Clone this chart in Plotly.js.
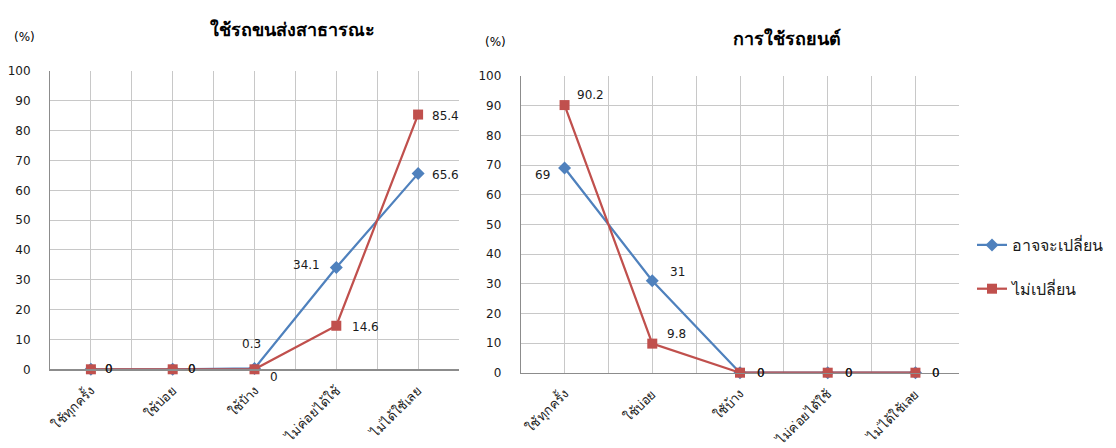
<!DOCTYPE html>
<html>
<head>
<meta charset="utf-8">
<script src="https://cdn.plot.ly/plotly-3.0.1.min.js"></script>
<style>
  html, body { margin: 0; padding: 0; background: #fff; }
  #chart { width: 1116px; height: 448px; }
</style>
</head>
<body>
<div id="chart"></div>
<script>
// Response categories (x axis) and the two series per panel
const categories = ['ใช้ทุกครั้ง', 'ใช้บ่อย', 'ใช้บ้าง', 'ไม่ค่อยได้ใช้', 'ไม่ได้ใช้เลย'];
const seriesNames = ['อาจจะเปลี่ยน', 'ไม่เปลี่ยน'];
const panelTitles = ['ใช้รถขนส่งสาธารณะ', 'การใช้รถยนต์'];

// Panel 1: public transport use (%)
const publicMaybe = [0, 0, 0.3, 34.1, 65.6];
const publicNoChange = [0, 0, 0, 14.6, 85.4];

// Panel 2: car use (%)
const carMaybe = [69, 31, 0, 0, 0];
const carNoChange = [90.2, 9.8, 0, 0, 0];

const yTicks = [0, 10, 20, 30, 40, 50, 60, 70, 80, 90, 100];

// ---- styling ----
const W = 1116, H = 448;
const BLUE = '#4F81BD', RED = '#C0504D';
const GRID = '#C8C8C8', AXIS = '#8C8C8C';
const FONT = 'DejaVu Sans, Tahoma, sans-serif';
const TXT = '#1a1a1a';

const xs = categories.map((c, i) => i + 1);

// data label offsets in pixels [dx, dy] (dy up is positive)
const offPublicMaybe = [[18, 0], [19, 0], [-3, 24], [-30, 3], [27, -1]];
const offPublicNo = [[18, 0], [19, 0], [19, -8], [29, -1], [27, -1]];
const offCarMaybe = [[-22, -7], [25, 9], [21, 0], [21, 0], [21, 0]];
const offCarNo = [[26, 10], [24, 10], [21, 0], [21, 0], [21, 0]];

function trace(y, name, color, symbol, size, xa, ya, showlegend) {
  return {
    type: 'scatter', mode: 'lines+markers',
    x: xs, y: y, name: name,
    xaxis: xa, yaxis: ya,
    line: { color: color, width: 2.25 },
    marker: { color: color, symbol: symbol, size: size },
    showlegend: showlegend,
    legendgroup: name,
    cliponaxis: false,
    hoverinfo: 'skip'
  };
}

const data = [
  trace(publicMaybe, seriesNames[0], BLUE, 'diamond', 10, 'x', 'y', true),
  trace(publicNoChange, seriesNames[1], RED, 'square', 10, 'x', 'y', true),
  trace(carMaybe, seriesNames[0], BLUE, 'diamond', 10, 'x2', 'y2', false),
  trace(carNoChange, seriesNames[1], RED, 'square', 10, 'x2', 'y2', false)
];

function labels(values, offsets, xref, yref) {
  return values.map((v, i) => ({
    x: xs[i], y: v, xref: xref, yref: yref,
    text: String(v), showarrow: false,
    xanchor: 'center', yanchor: 'middle',
    xshift: offsets[i][0], yshift: offsets[i][1],
    font: { family: FONT, size: 12, color: TXT }
  }));
}

function paperText(text, px, py, size) {
  return {
    text: text, x: px / W, y: 1 - py / H, xref: 'paper', yref: 'paper',
    xanchor: 'center', yanchor: 'middle', showarrow: false,
    font: { family: FONT, size: size, color: '#000' }
  };
}

const annotations = [].concat(
  labels(publicMaybe, offPublicMaybe, 'x', 'y'),
  labels(publicNoChange, offPublicNo, 'x', 'y'),
  labels(carMaybe, offCarMaybe, 'x2', 'y2'),
  labels(carNoChange, offCarNo, 'x2', 'y2'),
  [
    paperText('<b>' + panelTitles[0] + '</b>', 292, 30, 18),
    paperText('<b>' + panelTitles[1] + '</b>', 787, 39, 18),
    paperText('(%)', 24, 37, 12),
    paperText('(%)', 495, 42, 12)
  ]
);

function xaxis(domain, anchor) {
  return {
    domain: domain, anchor: anchor,
    range: [0.5, 5.5], fixedrange: true,
    tickmode: 'array', tickvals: xs, ticktext: categories,
    tickangle: -45, ticks: '', ticklabelstandoff: 7,
    tickfont: { family: FONT, size: 13, color: TXT },
    showgrid: true, gridcolor: GRID, gridwidth: 1,
    minor: { tickmode: 'linear', tick0: 0.5, dtick: 1, showgrid: true, gridcolor: GRID, gridwidth: 1, ticks: '' },
    showline: true, linecolor: AXIS, linewidth: 1.5,
    zeroline: false
  };
}
function yaxis(domain, anchor) {
  return {
    domain: domain, anchor: anchor,
    range: [0, 100], fixedrange: true,
    tickmode: 'array', tickvals: yTicks,
    ticks: '', ticklabelstandoff: 16,
    tickfont: { family: FONT, size: 12, color: TXT },
    showgrid: true, gridcolor: GRID, gridwidth: 1,
    showline: true, linecolor: AXIS, linewidth: 1,
    zeroline: false
  };
}

const layout = {
  width: W, height: H,
  margin: { l: 0, r: 0, t: 0, b: 0, pad: 0 },
  paper_bgcolor: '#fff', plot_bgcolor: '#fff',
  xaxis: xaxis([50 / W, 459 / W], 'y'),
  yaxis: yaxis([1 - 369.3 / H, 1 - 71 / H], 'x'),
  xaxis2: xaxis([520.7 / W, 959.3 / W], 'y2'),
  yaxis2: yaxis([1 - 372.7 / H, 1 - 76 / H], 'x2'),
  showlegend: true,
  legend: {
    x: 972 / W, y: 1 - 228 / H, xanchor: 'left', yanchor: 'top',
    font: { family: FONT, size: 16, color: TXT },
    bgcolor: 'rgba(0,0,0,0)',
    traceorder: 'grouped', tracegroupgap: 20,
    itemwidth: 30
  },
  annotations: annotations
};

Plotly.newPlot('chart', data, layout, { staticPlot: true, displayModeBar: false });
</script>
</body>
</html>
